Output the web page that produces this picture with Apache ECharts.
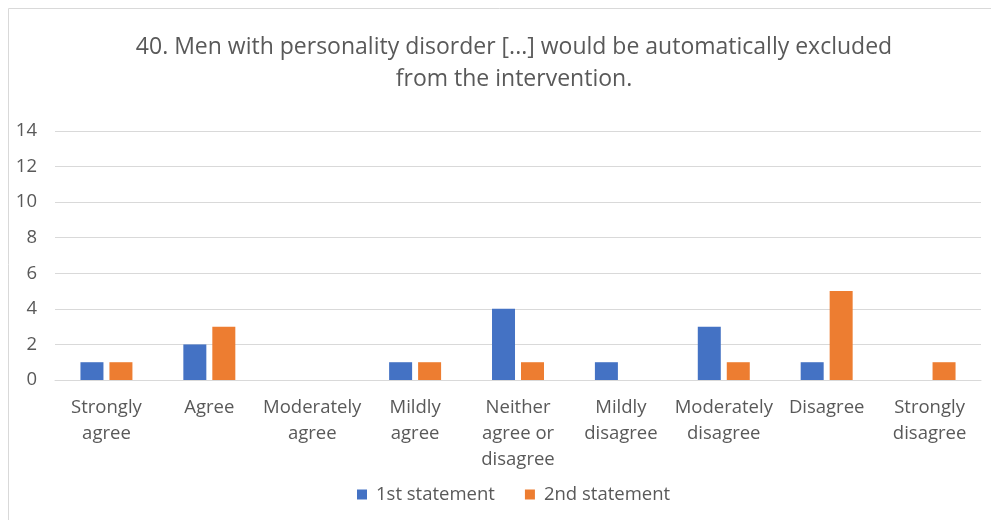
<!DOCTYPE html>
<html>
<head>
<meta charset="utf-8">
<script src="https://cdn.jsdelivr.net/npm/echarts@6/dist/echarts.min.js"></script>
<style>
  html, body { margin: 0; padding: 0; background: #fff; }
  #chart { width: 991px; height: 520px; }
</style>
</head>
<body>
<div id="chart"></div>
<script>
// data
const categories = [
  "Strongly\nagree",
  "Agree",
  "Moderately\nagree",
  "Mildly\nagree",
  "Neither\nagree or\ndisagree",
  "Mildly\ndisagree",
  "Moderately\ndisagree",
  "Disagree",
  "Strongly\ndisagree"
];
const firstStatement = [1, 2, 0, 1, 4, 1, 3, 1, 0];
const secondStatement = [1, 3, 0, 1, 1, 0, 1, 5, 1];
const seriesNames = ["1st statement", "2nd statement"];

const textColor = "#595959";
const fontFamily = "'Open Sans', 'Noto Sans', sans-serif";

const myChart = echarts.init(document.getElementById("chart"));

const option = {
  animation: false,
  title: {
    text: "40. Men with personality disorder [...] would be automatically excluded\nfrom the intervention.",
    left: 509,
    top: 26,
    textAlign: "center",
    textStyle: {
      color: textColor,
      fontFamily: fontFamily,
      fontSize: 23,
      fontWeight: "normal",
      lineHeight: 32
    }
  },
  legend: {
    bottom: 11,
    left: 352,
    itemWidth: 10,
    itemHeight: 10,
    itemGap: 30,
    icon: "rect",
    textStyle: {
      color: textColor,
      fontFamily: fontFamily,
      fontSize: 18.5,
      padding: [0, 0, 0, 4]
    },
    data: seriesNames
  },
  grid: {
    left: 55,
    right: 10,
    top: 131,
    bottom: 140
  },
  xAxis: {
    type: "category",
    data: categories,
    axisLine: { lineStyle: { color: "#d9d9d9" } },
    axisTick: { show: false },
    axisLabel: {
      color: textColor,
      fontFamily: fontFamily,
      fontSize: 18.5,
      lineHeight: 26,
      margin: 15,
      interval: 0
    }
  },
  yAxis: {
    type: "value",
    min: 0,
    max: 14,
    interval: 2,
    axisLine: { show: false },
    axisTick: { show: false },
    splitLine: { lineStyle: { color: "#d9d9d9", width: 1 } },
    axisLabel: {
      color: textColor,
      fontFamily: fontFamily,
      fontSize: 18.5,
      margin: 18
    }
  },
  graphic: [
    {
      type: "polyline",
      shape: { points: [[8.5, 520], [8.5, 8.5], [991, 8.5]] },
      style: { stroke: "#d9d9d9", fill: null, lineWidth: 1 }
    }
  ],
  series: [
    {
      name: seriesNames[0],
      type: "bar",
      data: firstStatement,
      barWidth: 23,
      barGap: "26%",
      itemStyle: { color: "#4472C4" }
    },
    {
      name: seriesNames[1],
      type: "bar",
      data: secondStatement,
      barWidth: 23,
      itemStyle: { color: "#ED7D31" }
    }
  ]
};

myChart.setOption(option);
</script>
</body>
</html>
